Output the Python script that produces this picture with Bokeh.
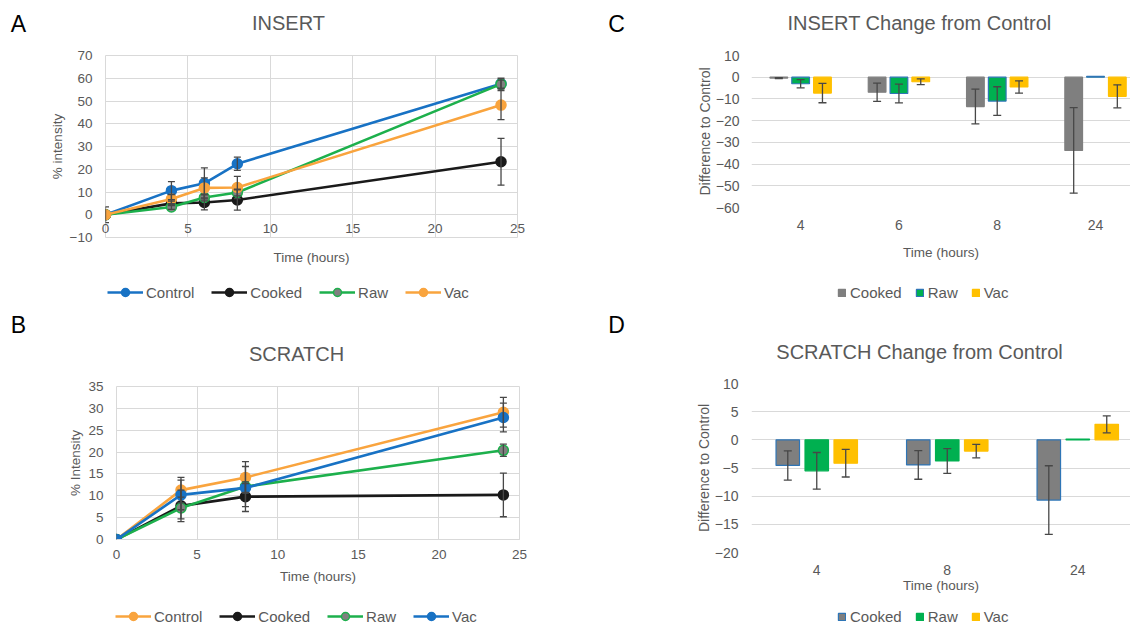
from bokeh.plotting import figure
from bokeh.models import (ColumnDataSource, Whisker, TeeHead, Legend, LegendItem,
                          FixedTicker, Range1d, Label)
from bokeh.layouts import row, column
from bokeh.embed import file_html
from bokeh.resources import INLINE

FONT = "Liberation Sans"
TXT = "#595959"
GRID = "#d9d9d9"
ERR = "#474747"

BLUE = "#1872C4"
ORANGE = "#F9A43E"
GREEN = "#1DB04C"
BLACK = "#1A1A1A"
GREY_MK = "#808080"
BAR_GREY = "#7F7F7F"
BAR_GREEN = "#00B050"
BAR_GOLD = "#FFC000"
OUTLINE_BLUE = "#2E75B6"

# ---------------- Panel A: INSERT ----------------
a_time = [0, 4, 6, 8, 24]
a_control = [0, 10.6, 13.8, 22.4, 57.6]
a_control_err = [0, 4.0, 6.8, 2.9, 2.4]
a_cooked = [0, 5.0, 5.4, 6.5, 23.3]
a_cooked_err = [3.5, 1.0, 3.3, 4.5, 10.3]
a_raw = [0, 3.4, 7.6, 9.8, 57.4]
a_raw_err = [0, 1.0, 1.5, 1.5, 1.8]
a_vac = [0, 6.9, 11.8, 12.0, 48.2]
a_vac_err = [0, 2.0, 4.4, 4.9, 6.4]
a_xticks = [0, 5, 10, 15, 20, 25]
a_yticks = [-10, 0, 10, 20, 30, 40, 50, 60, 70]

# ---------------- Panel B: SCRATCH ----------------
b_time = [0, 4, 8, 24]
b_control = [0, 11.3, 14.2, 29.1]
b_control_err = [0, 2.9, 3.6, 3.4]
b_cooked = [0, 7.7, 9.8, 10.2]
b_cooked_err = [0, 3.6, 3.4, 5.0]
b_raw = [0, 7.2, 12.1, 20.4]
b_raw_err = [0, 2.5, 4.6, 1.4]
b_vac = [0, 10.2, 11.8, 27.9]
b_vac_err = [0, 3.4, 1.0, 3.3]
b_xticks = [0, 5, 10, 15, 20, 25]
b_yticks = [0, 5, 10, 15, 20, 25, 30, 35]

# ---------------- Panel C: INSERT change ----------------
c_times = ["4", "6", "8", "24"]
c_cooked = [-0.4, -6.9, -13.5, -33.7]
c_cooked_err = [0.2, 4.2, 8.0, 19.7]
c_raw = [-3.0, -7.5, -11.0, 0.4]
c_raw_err = [1.9, 4.35, 6.6, 0]
c_vac = [-7.3, -2.1, -4.5, -8.8]
c_vac_err = [4.45, 1.35, 2.85, 5.3]
c_yticks = [10, 0, -10, -20, -30, -40, -50, -60]

# ---------------- Panel D: SCRATCH change ----------------
d_times = ["4", "8", "24"]
d_cooked = [-4.55, -4.45, -10.7]
d_cooked_err = [2.6, 2.55, 6.1]
d_raw = [-5.5, -3.75, 0.15]
d_raw_err = [3.25, 2.2, 0]
d_vac = [-4.15, -2.0, 2.75]
d_vac_err = [2.45, 1.2, 1.5]
d_yticks = [10, 5, 0, -5, -10, -15, -20]

W = 565
FULL = 1130
BAR_OFFSETS = [-0.222, 0.0, 0.222]


def blank_fig(w, h):
    p = figure(width=w, height=h, x_range=Range1d(0, w), y_range=Range1d(0, h),
               x_axis_location=None, y_axis_location=None,
               min_border=0, min_border_left=0, min_border_right=0,
               min_border_top=0, min_border_bottom=0,
               output_backend="svg", toolbar_location=None, tools="")
    p.title.visible = False
    p.outline_line_color = None
    p.grid.visible = False
    p.background_fill_color = "white"
    p.border_fill_color = "white"
    return p


def add_label(p, x, y, text, size, color):
    p.add_layout(Label(x=x, y=y, x_units="canvas", y_units="canvas", text=text,
                       text_font=FONT, text_font_size=size, text_color=color,
                       text_align="center", text_baseline="middle"))


def chart_fig(h, l, r, t, b, xr, yr):
    p = figure(width=W, height=h, min_border_left=l, min_border_right=r,
               min_border_top=t, min_border_bottom=b,
               x_range=Range1d(*xr), y_range=Range1d(*yr),
               output_backend="svg", toolbar_location=None, tools="")
    p.title.visible = False
    p.background_fill_color = "white"
    p.border_fill_color = "white"
    p.outline_line_color = None
    return p


def style_axes(p, size):
    for ax in p.axis:
        ax.major_tick_line_color = None
        ax.minor_tick_line_color = None
        ax.major_tick_in = 0
        ax.major_tick_out = 0
        ax.major_label_text_font = FONT
        ax.major_label_text_font_size = size
        ax.major_label_text_color = TXT
        ax.axis_label_text_font = FONT
        ax.axis_label_text_font_style = "normal"
        ax.axis_label_text_color = TXT


def add_err(p, xs, ys, es, size):
    xx, up, lo = [], [], []
    for x, y, e in zip(xs, ys, es):
        if e > 0:
            xx.append(x)
            up.append(y + e)
            lo.append(y - e)
    src = ColumnDataSource(dict(x=xx, upper=up, lower=lo))
    w = Whisker(source=src, base="x", upper="upper", lower="lower",
                line_color=ERR, line_width=1.3, level="glyph",
                upper_head=TeeHead(size=size, line_color=ERR, line_width=1.3),
                lower_head=TeeHead(size=size, line_color=ERR, line_width=1.3))
    p.add_layout(w)


def line_chart(p, t, series):
    for name, vals, errs, lc, fc in series:
        add_err(p, t, vals, errs, 7)
    for name, vals, errs, lc, fc in series:
        src = ColumnDataSource(dict(t=t, v=vals))
        p.line("t", "v", source=src, line_color=lc, line_width=2.6)
        p.scatter("t", "v", source=src, marker="circle", size=10,
                  fill_color=fc, line_color=lc, line_width=1.5)


def add_line_legend(p, t, series, vx, vy):
    # legend keys: same series, renderers hidden in the legend strip
    items = []
    for name, vals, errs, lc, fc in series:
        src = ColumnDataSource(dict(t=t, v=vals))
        ln = p.line("t", "v", source=src, line_color=lc, line_width=2.6, visible=False)
        mk = p.scatter("t", "v", source=src, marker="circle", size=10,
                       fill_color=fc, line_color=lc, line_width=1.5, visible=False)
        items.append(LegendItem(label=name, renderers=[ln, mk]))
    p.add_layout(Legend(items=items, location=(vx, vy), orientation="horizontal",
                        background_fill_alpha=0, border_line_color=None, padding=0, margin=0,
                        spacing=17, label_standoff=3, glyph_width=36, glyph_height=20,
                        label_height=20, label_text_font=FONT, label_text_font_size="15px",
                        label_text_color=TXT, inactive_fill_alpha=0))


def bar_chart(p, cats, series):
    n = len(cats)
    for (name, vals, errs, fc, lc), off in zip(series, BAR_OFFSETS):
        xs = [i + 0.5 + off for i in range(n)]
        src = ColumnDataSource(dict(x=xs, top=vals))
        p.vbar(x="x", top="top", bottom=0, width=0.18, source=src,
               fill_color=fc, line_color=lc, line_width=1.2)
    for (name, vals, errs, fc, lc), off in zip(series, BAR_OFFSETS):
        xs = [i + 0.5 + off for i in range(n)]
        add_err(p, xs, vals, errs, 8)
    p.xaxis.ticker = FixedTicker(ticks=[i + 0.5 for i in range(n)])
    p.xaxis.major_label_overrides = {i + 0.5: c for i, c in enumerate(cats)}
    p.xaxis.axis_line_color = None
    p.yaxis.axis_line_color = None
    p.xgrid.grid_line_color = None
    p.ygrid.grid_line_color = GRID


def add_bar_legend(p, cats, series, vx, vy):
    n = len(cats)
    items = []
    for (name, vals, errs, fc, lc), off in zip(series, BAR_OFFSETS):
        xs = [i + 0.5 + off for i in range(n)]
        src = ColumnDataSource(dict(x=xs, top=vals))
        r = p.vbar(x="x", top="top", bottom=0, width=0.18, source=src,
                   fill_color=fc, line_color=lc, line_width=1.2, visible=False)
        items.append(LegendItem(label=name, renderers=[r]))
    p.add_layout(Legend(items=items, location=(vx, vy), orientation="horizontal",
                        background_fill_alpha=0, border_line_color=None, padding=0, margin=0,
                        spacing=13, label_standoff=4, glyph_width=9, glyph_height=9,
                        label_height=17, label_text_font=FONT, label_text_font_size="15px",
                        label_text_color=TXT, inactive_fill_alpha=0))


a_series = [
    ("Control", a_control, a_control_err, BLUE, BLUE),
    ("Cooked", a_cooked, a_cooked_err, BLACK, BLACK),
    ("Raw", a_raw, a_raw_err, GREEN, GREY_MK),
    ("Vac", a_vac, a_vac_err, ORANGE, ORANGE),
]
b_series = [
    ("Control", b_control, b_control_err, ORANGE, ORANGE),
    ("Cooked", b_cooked, b_cooked_err, BLACK, BLACK),
    ("Raw", b_raw, b_raw_err, GREEN, GREY_MK),
    ("Vac", b_vac, b_vac_err, BLUE, BLUE),
]
c_series = [
    ("Cooked", c_cooked, c_cooked_err, BAR_GREY, BAR_GREY),
    ("Raw", c_raw, c_raw_err, BAR_GREEN, OUTLINE_BLUE),
    ("Vac", c_vac, c_vac_err, BAR_GOLD, BAR_GOLD),
]
d_series = [
    ("Cooked", d_cooked, d_cooked_err, BAR_GREY, OUTLINE_BLUE),
    ("Raw", d_raw, d_raw_err, BAR_GREEN, BAR_GREEN),
    ("Vac", d_vac, d_vac_err, BAR_GOLD, BAR_GOLD),
]

# ---- top title strip ----
tTop = blank_fig(FULL, 45)
add_label(tTop, 18, 23, "A", "23px", "#000000")
add_label(tTop, 288, 22, "INSERT", "20px", TXT)
add_label(tTop, 616, 23, "C", "23px", "#000000")
add_label(tTop, 919, 22, "INSERT Change from Control", "20px", TXT)

# ---- A chart ----
pA = chart_fig(227, 105, 48, 10, 35, (0, 25), (-10, 70))
pA.outline_line_color = GRID
pA.xaxis.ticker = FixedTicker(ticks=a_xticks)
pA.yaxis.ticker = FixedTicker(ticks=a_yticks)
pA.xaxis.axis_line_color = None
pA.yaxis.axis_line_color = None
pA.xgrid.grid_line_color = GRID
pA.ygrid.grid_line_color = GRID
style_axes(pA, "13.5px")
pA.xaxis.major_label_standoff = -14
pA.yaxis.major_label_standoff = 13
pA.xaxis.axis_label = "Time (hours)"
pA.xaxis.axis_label_standoff = 14
pA.yaxis.axis_label = "% intensity"
pA.yaxis.axis_label_standoff = 2
pA.xaxis.axis_label_text_font_size = "13.5px"
pA.yaxis.axis_label_text_font_size = "13.5px"
line_chart(pA, a_time, a_series)

# ---- C chart ----
pC = chart_fig(220, 186, 0, 10, 58, (0, 3.856), (-60, 10))
pC.yaxis.ticker = FixedTicker(ticks=c_yticks)
style_axes(pC, "14px")
bar_chart(pC, c_times, c_series)
pC.xaxis.major_label_standoff = 12
pC.yaxis.major_label_standoff = 12
pC.xaxis.axis_label = "Time (hours)"
pC.xaxis.axis_label_standoff = 12
pC.yaxis.axis_label = "Difference to Control"
pC.yaxis.axis_label_standoff = 0
pC.xaxis.axis_label_text_font_size = "13.5px"
pC.yaxis.axis_label_text_font_size = "14px"

# ---- top legend strip ----
lTop = blank_fig(FULL, 41)
add_line_legend(lTop, a_time, a_series, 107, 11)
add_bar_legend(lTop, c_times, c_series, 837, 12.5)

# ---- middle title strip ----
tMid = blank_fig(FULL, 60)
add_label(tMid, 18, 11, "B", "23px", "#000000")
add_label(tMid, 296, 40, "SCRATCH", "20px", TXT)
add_label(tMid, 616, 11, "D", "23px", "#000000")
add_label(tMid, 919, 38, "SCRATCH Change from Control", "20px", TXT)

# ---- B chart ----
pB = chart_fig(213, 116, 46, 13, 47, (0, 25), (0, 35))
pB.outline_line_color = GRID
pB.xaxis.ticker = FixedTicker(ticks=b_xticks)
pB.yaxis.ticker = FixedTicker(ticks=b_yticks)
pB.xaxis.axis_line_color = GRID
pB.yaxis.axis_line_color = None
pB.xgrid.grid_line_color = GRID
pB.ygrid.grid_line_color = GRID
style_axes(pB, "13.5px")
pB.xaxis.major_label_standoff = 10
pB.yaxis.major_label_standoff = 13
pB.xaxis.axis_label = "Time (hours)"
pB.xaxis.axis_label_standoff = 7
pB.yaxis.axis_label = "% Intensity"
pB.yaxis.axis_label_standoff = 2
pB.xaxis.axis_label_text_font_size = "13.5px"
pB.yaxis.axis_label_text_font_size = "13.5px"
line_chart(pB, b_time, b_series)

# ---- D chart ----
pD = chart_fig(222, 186, 0, 10, 43, (0, 2.904), (-20, 10))
pD.yaxis.ticker = FixedTicker(ticks=d_yticks)
style_axes(pD, "14px")
bar_chart(pD, d_times, d_series)
pD.xaxis.major_label_standoff = 12
pD.yaxis.major_label_standoff = 13
pD.xaxis.axis_label = "Time (hours)"
pD.xaxis.axis_label_standoff = 0
pD.yaxis.axis_label = "Difference to Control"
pD.yaxis.axis_label_standoff = 0
pD.xaxis.axis_label_text_font_size = "13.5px"
pD.yaxis.axis_label_text_font_size = "14px"

# ---- bottom legend strip ----
lBot = blank_fig(FULL, 31)
add_line_legend(lBot, b_time, b_series, 115, 0)
add_bar_legend(lBot, d_times, d_series, 837, 1.5)

layout = column(
    tTop,
    row(column(pA), column(pC)),
    lTop,
    tMid,
    row(column(pB), column(pD)),
    lBot,
)
open("out.html", "w").write(file_html(layout, INLINE))
